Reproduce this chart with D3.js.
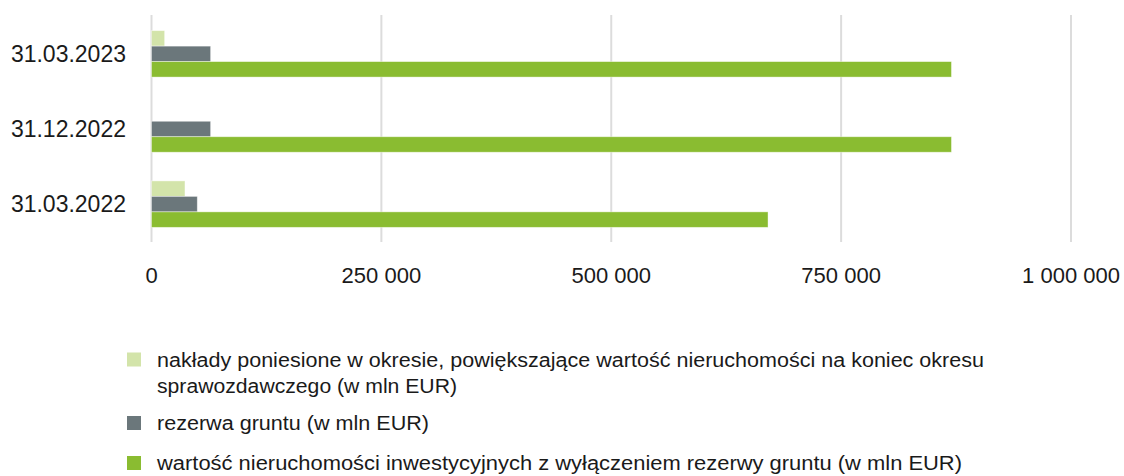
<!DOCTYPE html>
<html>
<head>
<meta charset="utf-8">
<script src="https://cdn.jsdelivr.net/npm/d3@7"></script>
<style>
  body { margin: 0; background: #fff; }
  text { font-family: "Liberation Sans", Arial, sans-serif; fill: #1a1a1a; }
</style>
</head>
<body>
<div id="chart"></div>
<script>
// categories, top to bottom
const dates = ['31.03.2023', '31.12.2022', '31.03.2022'];

// series values (as shown on the axis)
const naklady = [14300, 0, 36400];
const rezerwa = [64300, 64300, 49800];
const wartosc = [870000, 870000, 670500];

const ticks = [0, 250000, 500000, 750000, 1000000];

const seriesNames = [
  ['nakłady poniesione w okresie, powiększające wartość nieruchomości na koniec okresu', 'sprawozdawczego (w mln EUR)'],
  ['rezerwa gruntu (w mln EUR)'],
  ['wartość nieruchomości inwestycyjnych z wyłączeniem rezerwy gruntu (w mln EUR)']
];
// widths the legend lines take up in the original
const legendWidths = [[827, 300], [272], [805]];
const colors = ['#d3e4aa', '#6b777b', '#8abc31'];

const width = 1124, height = 476;

const svg = d3.select('#chart').append('svg')
  .attr('width', width)
  .attr('height', height);

const x = d3.scaleLinear()
  .domain([0, 1000000])
  .range([151.5, 1071]);

const y = d3.scaleBand()
  .domain(dates)
  .range([16, 242])
  .paddingInner(0.382)
  .paddingOuter(0.195);

const keys = ['naklady', 'rezerwa', 'wartosc'];
const ySub = d3.scaleBand()
  .domain(keys)
  .range([0, y.bandwidth()]);

const rows = dates.map((d, i) => ({
  date: d,
  naklady: naklady[i],
  rezerwa: rezerwa[i],
  wartosc: wartosc[i]
}));

// grid lines
svg.append('g')
  .selectAll('line')
  .data(ticks)
  .enter()
  .append('line')
  .attr('x1', d => x(d))
  .attr('x2', d => x(d))
  .attr('y1', 15)
  .attr('y2', 242)
  .attr('stroke', '#dcdcdc')
  .attr('stroke-width', 2);

// bars
const groups = svg.append('g')
  .selectAll('g')
  .data(rows)
  .enter()
  .append('g')
  .attr('transform', d => `translate(0,${y(d.date)})`);

groups.selectAll('rect')
  .data(d => keys.map((k, i) => ({ key: k, value: d[k], color: colors[i] })))
  .enter()
  .append('rect')
  .attr('x', x(0))
  .attr('y', d => ySub(d.key))
  .attr('width', d => x(d.value) - x(0))
  .attr('height', ySub.bandwidth())
  .attr('fill', d => d.color)
  .attr('stroke', d => d.value > 0 ? '#ffffff' : 'none')
  .attr('stroke-opacity', 0.5)
  .attr('stroke-width', 0.8);

// category labels
svg.append('g')
  .selectAll('text')
  .data(dates)
  .enter()
  .append('text')
  .attr('x', 126)
  .attr('y', d => y(d) + y.bandwidth() / 2)
  .attr('dy', '0.35em')
  .attr('text-anchor', 'end')
  .style('font-size', '23px')
  .text(d => d);

// x axis labels
const fmt = v => d3.format(',')(v).replace(/,/g, ' ');
svg.append('g')
  .selectAll('text')
  .data(ticks)
  .enter()
  .append('text')
  .attr('x', d => x(d))
  .attr('y', 283)
  .attr('text-anchor', 'middle')
  .style('font-size', '22px')
  .text(d => fmt(d));

// legend
const legendRows = [366.5, 430, 470];
const legend = svg.append('g')
  .selectAll('g')
  .data(seriesNames.map((lines, i) => ({ lines, widths: legendWidths[i] })))
  .enter()
  .append('g')
  .attr('transform', (d, i) => `translate(0,${legendRows[i]})`);

legend.append('rect')
  .attr('x', 127)
  .attr('y', -14)
  .attr('width', 14)
  .attr('height', 14)
  .attr('fill', (d, i) => colors[i]);

legend.append('text')
  .style('font-size', '20px')
  .selectAll('tspan')
  .data(d => d.lines.map((t, j) => ({ t, w: d.widths[j] })))
  .enter()
  .append('tspan')
  .attr('x', 157)
  .attr('y', (d, i) => i * 26)
  .attr('textLength', d => d.w)
  .attr('lengthAdjust', 'spacingAndGlyphs')
  .text(d => d.t);
</script>
</body>
</html>
